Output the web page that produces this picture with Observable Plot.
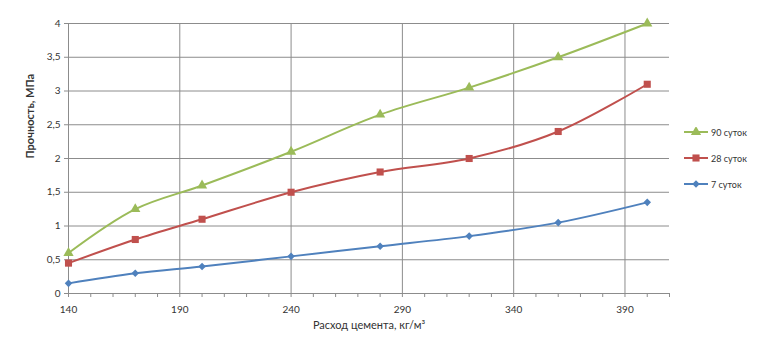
<!DOCTYPE html>
<html><head><meta charset="utf-8">
<script src="https://cdn.jsdelivr.net/npm/d3@7"></script>
<script src="https://cdn.jsdelivr.net/npm/@observablehq/plot@0.6"></script>
<style>
body{margin:0;background:#fff;font-family:Lato,"Open Sans",sans-serif;}
#wrap{position:relative;width:763px;height:344px;}
#legend{position:absolute;left:684px;top:119px;font-size:9px;color:#333;}
.li{display:flex;align-items:center;height:26px;}
.li svg{margin-right:3px;}
</style></head><body>
<div id="wrap"><div id="chart"></div><div id="legend"></div></div>
<script>
const cement = [140, 170, 200, 240, 280, 320, 360, 400];
const days90 = [0.6, 1.25, 1.6, 2.1, 2.65, 3.05, 3.5, 4.0];
const days28 = [0.45, 0.8, 1.1, 1.5, 1.8, 2.0, 2.4, 3.1];
const days7 = [0.15, 0.3, 0.4, 0.55, 0.7, 0.85, 1.05, 1.35];
const seriesNames = ["90 суток", "28 суток", "7 суток"];
const seriesColors = ["#9BBB59", "#C0504D", "#4F81BD"];
const seriesSymbols = ["triangle", "square", "square"];
const seriesRotate = [0, 0, 45];
const seriesR = [3.8, 4, 3];
const xLabelTicks = [140, 190, 240, 290, 340, 390];
const yTicks = [0, 0.5, 1, 1.5, 2, 2.5, 3, 3.5, 4];

const allSeries = [days90, days28, days7];
const rows = allSeries.flatMap((vals, i) => vals.map((v, j) => ({x: cement[j], y: v, s: seriesNames[i]})));

const fmt = v => String(v).replace(".", ",");
const marks = [
  Plot.gridY(yTicks.slice(1), {stroke: "#8c8c8c", strokeOpacity: 1}),
  Plot.gridX(xLabelTicks.slice(1), {stroke: "#8c8c8c", strokeOpacity: 1}),
  Plot.ruleY([0], {stroke: "#8c8c8c"}),
  Plot.ruleX([140], {stroke: "#8c8c8c"}),
  Plot.axisX(d3.range(140, 411, 10), {tickSize: 4, tickFormat: () => "", stroke: "#8c8c8c", label: null}),
  Plot.axisX(xLabelTicks, {tickSize: 0, tickPadding: 12, tickFormat: d => d, fontSize: 10, fill: "#333", label: null}),
  Plot.axisY(yTicks, {tickSize: 4, tickPadding: 4, tickFormat: fmt, fontSize: 10, fill: "#333", stroke: "#8c8c8c", label: null}),
  Plot.text(["Расход цемента, кг/м³"], {frameAnchor: "bottom", dy: 35, fontSize: 11, fill: "#333"}),
  Plot.text(["Прочность, МПа"], {frameAnchor: "left", dx: -38, rotate: -90, fontSize: 11, fontWeight: "bold", fill: "#333"})
];
seriesNames.forEach((name, i) => {
  const d = rows.filter(r => r.s === name);
  marks.push(Plot.line(d, {x: "x", y: "y", stroke: seriesColors[i], strokeWidth: 2, curve: "catmull-rom"}));
  marks.push(Plot.dot(d, {x: "x", y: "y", fill: seriesColors[i], symbol: seriesSymbols[i], r: seriesR[i], rotate: seriesRotate[i], stroke: null}));
});

const chart = Plot.plot({
  width: 763, height: 344,
  marginLeft: 68, marginRight: 94, marginTop: 23, marginBottom: 51,
  style: {fontFamily: "Lato, 'Open Sans', sans-serif", background: "#fff"},
  x: {domain: [140, 410]},
  y: {domain: [0, 4]},
  marks
});
document.getElementById("chart").appendChild(chart);

const leg = document.getElementById("legend");
seriesNames.forEach((name, i) => {
  const div = document.createElement("div");
  div.className = "li";
  const type = seriesSymbols[i] === "triangle" ? d3.symbolTriangle : d3.symbolSquare;
  const size = Math.PI * seriesR[i] * seriesR[i];
  const sym = d3.symbol(type, size)();
  div.innerHTML = `<svg width="24" height="10"><line x1="0" x2="24" y1="5" y2="5" stroke="${seriesColors[i]}" stroke-width="2"/><path transform="translate(12,5) rotate(${seriesRotate[i]})" d="${sym}" fill="${seriesColors[i]}"/></svg><span>${name}</span>`;
  leg.appendChild(div);
});
</script></body></html>
